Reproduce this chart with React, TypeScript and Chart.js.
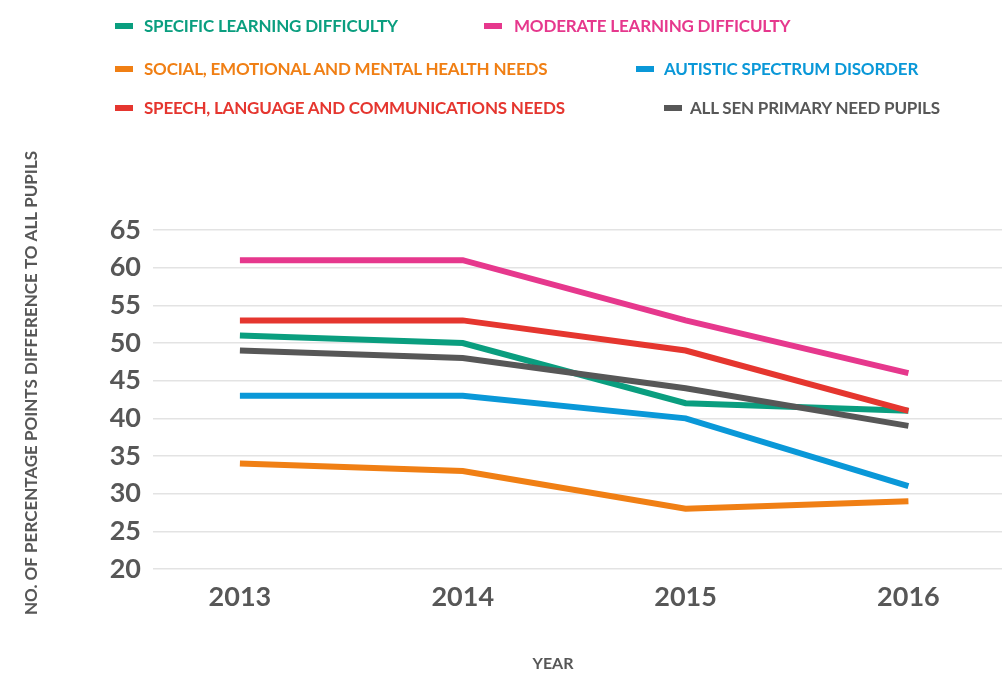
import React, { useEffect, useRef } from "react";
import { Chart, registerables } from "chart.js";

Chart.register(...registerables);

const years = [2013, 2014, 2015, 2016];
const yTicks = [20, 25, 30, 35, 40, 45, 50, 55, 60, 65];

const specificLearning = [51, 50, 42, 41];
const moderateLearning = [61, 61, 53, 46];
const socialEmotional = [34, 33, 28, 29];
const autisticSpectrum = [43, 43, 40, 31];
const speechLanguage = [53, 53, 49, 41];
const allSen = [49, 48, 44, 39];

const seriesNames = [
  "SPECIFIC LEARNING DIFFICULTY",
  "MODERATE LEARNING DIFFICULTY",
  "SOCIAL, EMOTIONAL AND MENTAL HEALTH NEEDS",
  "AUTISTIC SPECTRUM DISORDER",
  "SPEECH, LANGUAGE AND COMMUNICATIONS NEEDS",
  "ALL SEN PRIMARY NEED PUPILS",
];
const seriesColors = ["#0a9e7f", "#e6388d", "#f07f14", "#0a98d8", "#e5362f", "#575757"];
const seriesValues = [specificLearning, moderateLearning, socialEmotional, autisticSpectrum, speechLanguage, allSen];
const seriesOrder = [5, 3, 4, 2, 1, 0];

const yTitle = "NO. OF PERCENTAGE POINTS DIFFERENCE TO ALL PUPILS";
const xTitle = "YEAR";

const FONT = "Lato, 'Noto Sans', sans-serif";

const legendPos = [
  { x: 115, y: 26, tx: 144 },
  { x: 484, y: 26, tx: 514 },
  { x: 115, y: 69, tx: 144 },
  { x: 636, y: 69, tx: 664 },
  { x: 115, y: 108, tx: 144 },
  { x: 664, y: 108, tx: 690 },
];

export default function App() {
  const ref = useRef<HTMLCanvasElement | null>(null);

  useEffect(() => {
    document.body.style.margin = "0";
    const canvas = ref.current;
    if (!canvas) return;

    const titlesPlugin = {
      id: "titles",
      afterDraw(chart: any) {
        const ctx = chart.ctx;
        ctx.save();
        ctx.fillStyle = "#575757";
        ctx.font = `bold 16px ${FONT}`;
        ctx.textAlign = "center";
        ctx.textBaseline = "middle";
        ctx.fillText(xTitle, 553, 664);
        ctx.font = `bold 17px ${FONT}`;
        ctx.translate(32, 383);
        ctx.rotate(-Math.PI / 2);
        ctx.fillText(yTitle, 0, 0);
        ctx.restore();
      },
    };

    const chart = new Chart(canvas, {
      type: "line",
      data: {
        datasets: seriesNames.map((name, i) => ({
          label: name,
          data: years.map((y, j) => ({ x: y, y: seriesValues[i][j] })),
          borderColor: seriesColors[i],
          backgroundColor: seriesColors[i],
          borderWidth: 6,
          pointRadius: 0,
          tension: 0,
          fill: false,
          order: seriesOrder[i],
          borderCapStyle: "butt",
          borderJoinStyle: "miter",
        })),
      },
      options: {
        animation: false,
        responsive: false,
        maintainAspectRatio: false,
        layout: { padding: { top: 230, left: 0, right: 0, bottom: 0 } },
        plugins: {
          legend: { display: false },
          tooltip: { enabled: false },
        },
        scales: {
          x: {
            type: "linear",
            min: 2012.61,
            max: 2016.42,
            afterBuildTicks: (scale: any) => {
              scale.ticks = years.map((v) => ({ value: v }));
            },
            afterFit: (scale: any) => {
              scale.height = 104;
            },
            grid: { display: false, drawTicks: false },
            border: { display: false },
            ticks: {
              padding: 12,
              color: "#575757",
              font: { family: FONT, size: 27, weight: "bold" },
              callback: (v: any) => String(v),
              maxRotation: 0,
            },
          },
          y: {
            min: 20,
            max: 65,
            afterBuildTicks: (scale: any) => {
              scale.ticks = yTicks.map((v) => ({ value: v }));
            },
            afterFit: (scale: any) => {
              scale.width = 153;
            },
            grid: { color: "#e3e3e3", lineWidth: 1.5, drawTicks: false },
            border: { display: false },
            ticks: {
              padding: 12,
              color: "#575757",
              font: { family: FONT, size: 27, weight: "bold" },
            },
          },
        },
      },
      plugins: [titlesPlugin],
    } as any);

    return () => chart.destroy();
  }, []);

  return (
    <div style={{ position: "relative", width: 1002, height: 673, background: "#fff", fontFamily: FONT }}>
      <canvas ref={ref} width={1002} height={673} style={{ display: "block" }} />
      {seriesNames.map((name, i) => (
        <div key={name}>
          <div
            style={{
              position: "absolute",
              left: legendPos[i].x,
              top: legendPos[i].y - 3,
              width: 18,
              height: 6,
              background: seriesColors[i],
            }}
          />
          <div
            style={{
              position: "absolute",
              left: legendPos[i].tx,
              top: legendPos[i].y - 11,
              lineHeight: "22px",
              fontSize: 17,
              fontWeight: "bold",
              letterSpacing: "-0.2px",
              color: seriesColors[i],
              whiteSpace: "nowrap",
            }}
          >
            {name}
          </div>
        </div>
      ))}
    </div>
  );
}
